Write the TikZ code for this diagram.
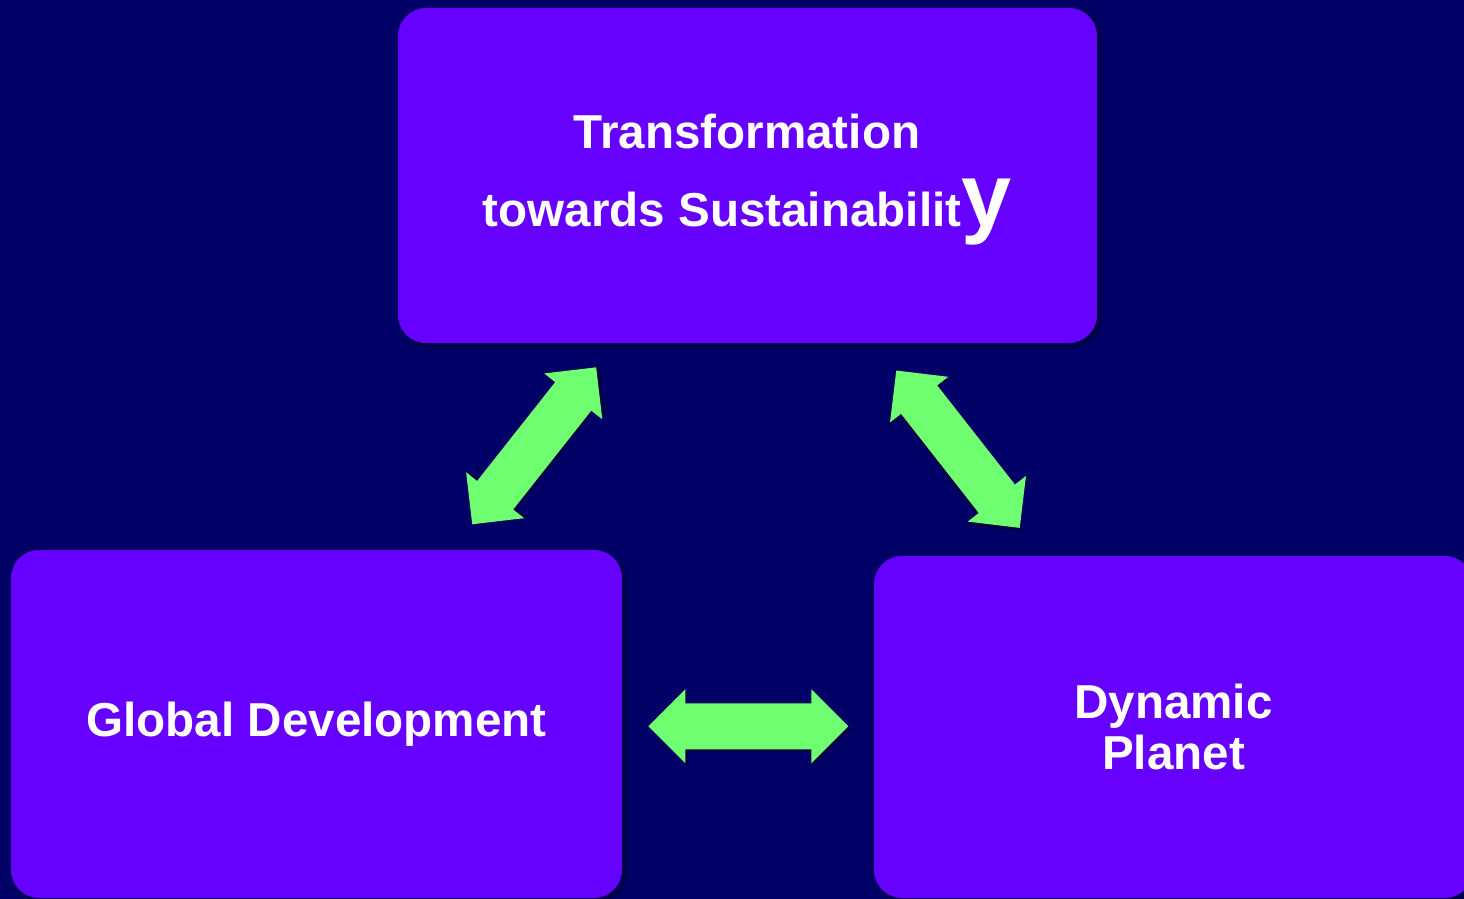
\documentclass[tikz,border=0pt]{standalone}
\usepackage{fontspec}
\setmainfont{Liberation Sans}
\usetikzlibrary{shadows.blur}

\definecolor{navybg}{RGB}{0,0,102}
\definecolor{boxviolet}{RGB}{102,0,255}
\definecolor{arrowgreen}{RGB}{112,255,112}

\tikzset{
  topicbox/.style={
    rounded corners=14pt, fill=boxviolet, draw=none,
    text=white, font=\bfseries\fontsize{23.8}{25.5}\selectfont, align=center,
    blur shadow={shadow xshift=1.5pt, shadow yshift=-1.5pt,
                 shadow blur steps=6, shadow opacity=45}
  },
  topictext/.style={
    text=white, font=\bfseries\fontsize{23.8}{40}\selectfont, align=center
  },
  % two-headed block arrow, drawn in pixel-like units around its centre
  dblarrow/.pic={
    \fill[black, opacity=0.35, shift={(2.5,2.5)}]
      (-100,0) -- (-63,-37) -- (-63,-23) -- (63,-23) -- (63,-37) -- (100,0)
      -- (63,37) -- (63,23) -- (-63,23) -- (-63,37) -- cycle;
    \fill[arrowgreen]
      (-100,0) -- (-63,-37) -- (-63,-23) -- (63,-23) -- (63,-37) -- (100,0)
      -- (63,37) -- (63,23) -- (-63,23) -- (-63,37) -- cycle;
  }
}

\begin{document}
\begin{tikzpicture}[x=0.5pt, y=-0.5pt]
  \useasboundingbox (0,0) rectangle (1464,899);
  \clip (0,0) rectangle (1464,899);
  \fill[navybg] (0,0) rectangle (1464,899);

  % the three topic boxes
  \node[topicbox, minimum width=349.5pt, minimum height=167.5pt] (transform) at (747.5,175.5) {};
  \node[topictext] (transformlabel) at (747,179.5)
    {Transformation\\[-1pt]towards Sustainabilit{\fontsize{45}{40}\selectfont y}};
  \node[topicbox, minimum width=305.5pt, minimum height=174pt] (global) at (316.5,724)
    {Global Development};
  \node[topicbox, minimum width=299.5pt, minimum height=171pt] (planet) at (1173.5,727)
    {Dynamic\\Planet};

  % block arrows linking the boxes
  \pic[rotate=51.7]  (tg) at (534.2,445.8) {dblarrow};
  \pic[rotate=-51.9] (tp) at (958,449.2)   {dblarrow};
  \pic               (gp) at (748.3,726.3) {dblarrow};
\end{tikzpicture}
\end{document}
